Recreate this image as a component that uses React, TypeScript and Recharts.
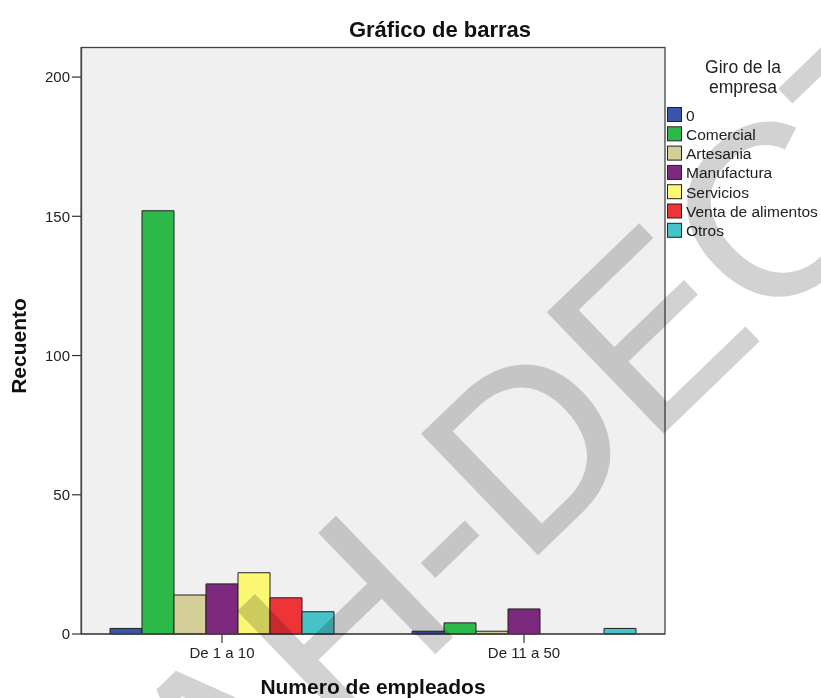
import React from 'react';
import { BarChart, Bar, XAxis, YAxis, CartesianGrid } from 'recharts';

const categories = ['De 1 a 10', 'De 11 a 50'];
const seriesNames = ['0', 'Comercial', 'Artesania', 'Manufactura', 'Servicios', 'Venta de alimentos', 'Otros'];
const seriesColors = ['#3A55A8', '#2DB84A', '#D4CF98', '#7C297E', '#FBF772', '#EF3438', '#47C3C7'];
const serie0 = [2, 1];
const comercial = [152, 4];
const artesania = [14, 1];
const manufactura = [18, 9];
const servicios = [22, 0];
const ventaAlimentos = [13, 0];
const otros = [8, 2];
const seriesValues = [serie0, comercial, artesania, manufactura, servicios, ventaAlimentos, otros];
const yTicks = [0, 50, 100, 150, 200];

const title = 'Gráfico de barras';
const xTitle = 'Numero de empleados';
const yTitle = 'Recuento';
const legendTitle = ['Giro de la', 'empresa'];
const watermark = 'AH-DECT';

const data = categories.map((name, i) => {
  const row: Record<string, string | number> = { name };
  seriesNames.forEach((s, k) => {
    row['s' + k] = seriesValues[k][i];
  });
  return row;
});

const W = 821;
const H = 698;
const PLOT = { left: 81, top: 47, right: 665, bottom: 634 };
const FONT = '"Liberation Sans", Arial, sans-serif';

export default function App() {
  return (
    <div style={{ position: 'absolute', left: 0, top: 0, width: W, height: H, background: '#fff', fontFamily: FONT }}>
      <BarChart
        width={W}
        height={H}
        data={data}
        margin={{ top: PLOT.top, right: W - PLOT.right, bottom: 0, left: 0 }}
        barGap={0}
        barSize={32}
      >
        <CartesianGrid fill="#F0F0F0" horizontal={false} vertical={false} />
        <XAxis
          dataKey="name"
          height={H - PLOT.bottom}
          interval={0}
          padding={{ left: -10, right: -10 }}
          tickSize={9}
          tickMargin={4}
          axisLine={{ stroke: '#333', strokeWidth: 1 }}
          tickLine={{ stroke: '#333', strokeWidth: 1.2 }}
          tick={{ fill: '#222', fontSize: 15, fontFamily: FONT }}
        />
        <YAxis
          width={PLOT.left}
          domain={[0, 210.8]}
          ticks={yTicks}
          tickSize={9}
          tickMargin={2}
          axisLine={{ stroke: '#333', strokeWidth: 1 }}
          tickLine={{ stroke: '#333', strokeWidth: 1.2 }}
          tick={{ fill: '#222', fontSize: 15, fontFamily: FONT }}
        />
        {seriesNames.map((s, k) => (
          <Bar
            key={s}
            dataKey={'s' + k}
            name={s}
            fill={seriesColors[k]}
            stroke="#222"
            strokeWidth={1}
            isAnimationActive={false}
          />
        ))}
      </BarChart>

      <svg
        width={W}
        height={H}
        style={{ position: 'absolute', left: 0, top: 0, pointerEvents: 'none' }}
      >
        <rect
          x={PLOT.left + 0.5}
          y={PLOT.top + 0.5}
          width={PLOT.right - PLOT.left - 0.5}
          height={PLOT.bottom - PLOT.top - 0.5}
          fill="none"
          stroke="#444"
          strokeWidth={1.3}
        />
        <text x={440} y={37} textAnchor="middle" fontSize={22} fontWeight="bold" fontFamily={FONT} fill="#111">
          {title}
        </text>
        <text x={373} y={694} textAnchor="middle" fontSize={21} fontWeight="bold" fontFamily={FONT} fill="#111">
          {xTitle}
        </text>
        <text
          transform="translate(26,346) rotate(-90)"
          textAnchor="middle"
          fontSize={21}
          fontWeight="bold"
          fontFamily={FONT}
          fill="#111"
        >
          {yTitle}
        </text>
        {legendTitle.map((t, i) => (
          <text key={t} x={743} y={73 + i * 19.5} textAnchor="middle" fontSize={17.5} fontFamily={FONT} fill="#222">
            {t}
          </text>
        ))}
        {seriesNames.map((s, k) => (
          <g key={s}>
            <rect
              x={667.5}
              y={107.5 + k * 19.3}
              width={14}
              height={14}
              fill={seriesColors[k]}
              stroke="#222"
              strokeWidth={1}
            />
            <text x={686} y={120.5 + k * 19.3} fontSize={15.5} fontFamily={FONT} fill="#222">
              {s}
            </text>
          </g>
        ))}
      </svg>

      <svg
        width={W}
        height={H}
        style={{ position: 'absolute', left: 0, top: 0, pointerEvents: 'none', mixBlendMode: 'multiply' }}
      >
        <text
          x={224}
          y={857}
          transform="rotate(-44 224 857)"
          fontSize={242}
          fontFamily={FONT}
          fill="#d2d2d2"
          stroke="#d2d2d2"
          strokeWidth={2}
        >
          {watermark}
        </text>
      </svg>
    </div>
  );
}
